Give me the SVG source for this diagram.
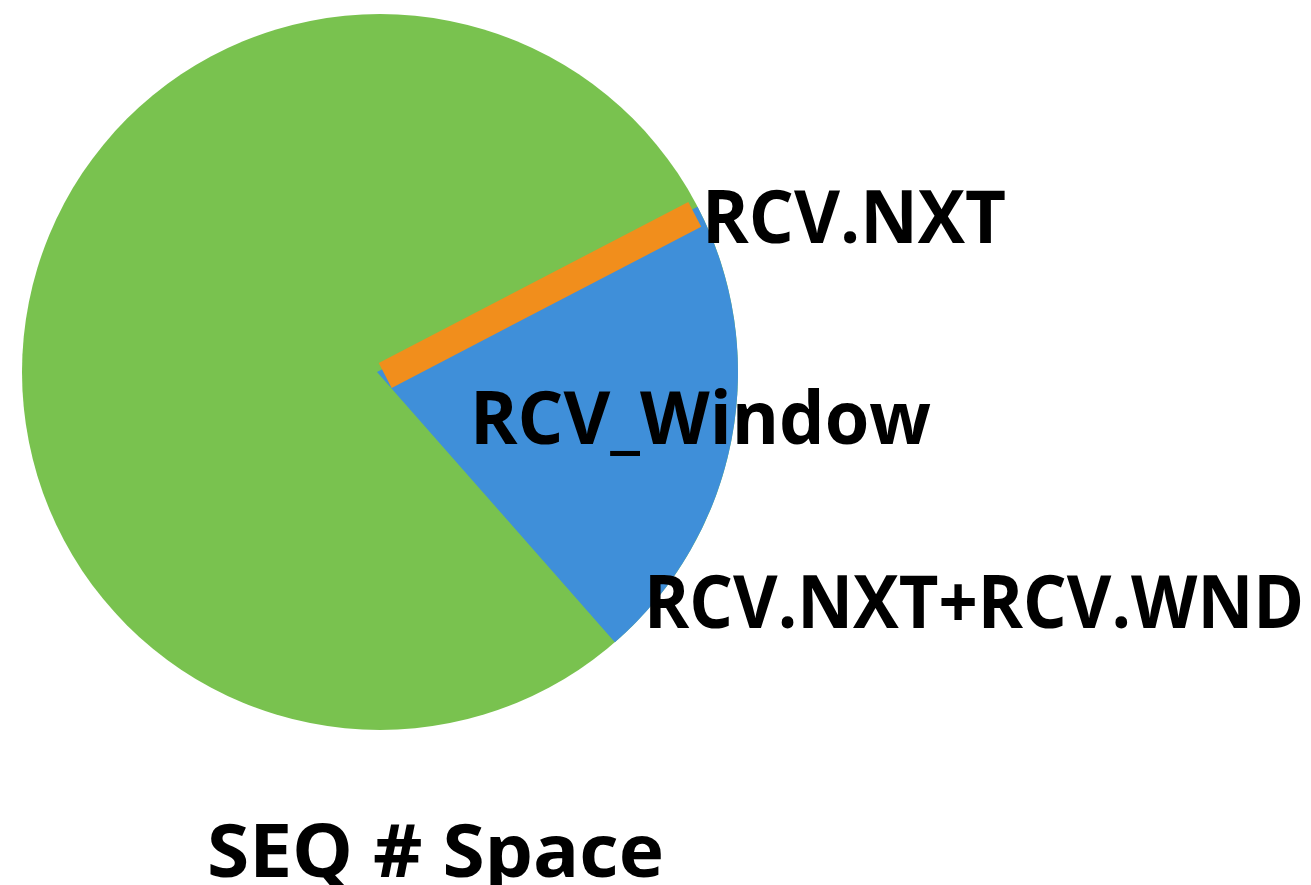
<svg xmlns="http://www.w3.org/2000/svg" width="1311" height="885" viewBox="0 0 1311 885">
<style>
.lbl{font-family:"Open Sans","DejaVu Sans",sans-serif;font-weight:700;font-size:73px;fill:#000}
</style>
<rect width="1311" height="885" fill="#fff"/>
<g id="pie">
<circle id="seq-space" cx="380" cy="372" r="358" fill="#79C24F"/>
<path id="rcv-window" d="M377,372 L697.5,206.7 A358,358 0 0 1 614.9,642.2 Z" fill="#3F8FD9"/>
<rect id="rcv-nxt" x="3" y="-8.5" width="349" height="28" fill="#F18E1C" transform="translate(380,372) rotate(-27.5)"/>
</g>
<g id="labels">
<text class="lbl" x="702" y="243" textLength="304" lengthAdjust="spacingAndGlyphs">RCV.NXT</text>
<text class="lbl" x="470" y="444" textLength="461" lengthAdjust="spacingAndGlyphs">RCV_Window</text>
<text class="lbl" x="644" y="628" textLength="660" lengthAdjust="spacingAndGlyphs">RCV.NXT+RCV.WND</text>
<text class="lbl" x="207" y="877" textLength="457" lengthAdjust="spacingAndGlyphs">SEQ # Space</text>
</g>
</svg>
